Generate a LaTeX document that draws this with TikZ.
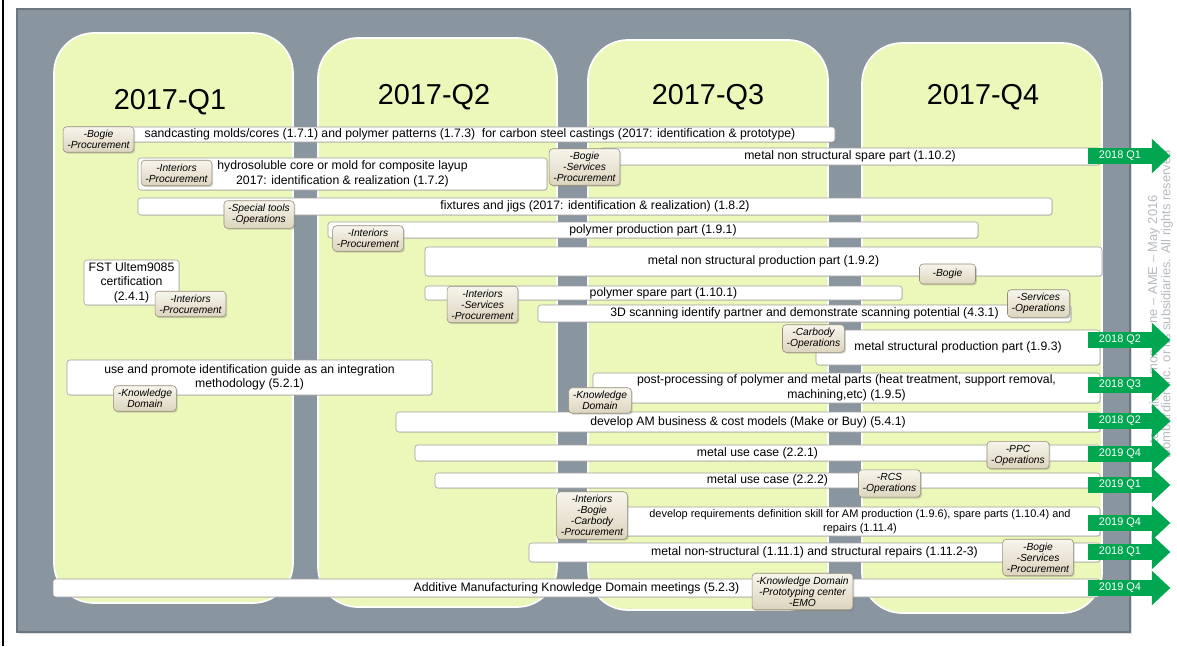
\documentclass[tikz,border=0pt]{standalone}
\usepackage{fontspec}
\setmainfont{Liberation Sans}
\usepackage{tikz}
\usetikzlibrary{shadows}
\definecolor{boardgrey}{RGB}{137,149,159}
\definecolor{boardedge}{RGB}{108,118,127}
\definecolor{quartergreen}{RGB}{236,248,186}
\definecolor{taskline}{RGB}{160,160,160}
\definecolor{ownertop}{RGB}{247,245,236}
\definecolor{ownerbottom}{RGB}{220,212,190}
\definecolor{ownerline}{RGB}{150,140,118}
\definecolor{duegreen}{RGB}{0,166,80}
\definecolor{notegrey}{RGB}{182,186,193}
\newcommand{\pu}{0.025cm}
\tikzstyle{board}=[draw=boardedge, fill=boardgrey, line width=1pt, drop shadow={opacity=0.25, shadow xshift=1.5pt, shadow yshift=-1.5pt}]
\tikzstyle{quarter}=[draw=white, line width=1.2pt, fill=quartergreen, rounded corners=1cm, inner sep=0pt]
\tikzstyle{quartertitle}=[font=\fontsize{20.5}{24}\selectfont, inner sep=0pt]
\tikzstyle{task}=[draw=taskline, fill=white, line width=0.4pt, rounded corners=2pt, inner sep=0pt, align=center, font=\fontsize{8.7}{10.3}\selectfont, drop shadow={opacity=0.2, shadow xshift=0.6pt, shadow yshift=-0.6pt}]
\tikzstyle{owner}=[draw=ownerline, line width=0.4pt, top color=ownertop, bottom color=ownerbottom, rounded corners=2.5pt, inner xsep=3pt, inner ysep=2.5pt, minimum width=1.4cm, minimum height=0.5cm, align=center, font=\fontsize{7.3}{7.8}\selectfont\itshape, drop shadow={opacity=0.35, shadow xshift=1pt, shadow yshift=-1pt}]
\tikzstyle{due}=[fill=duegreen, text=white, inner sep=0pt, minimum width=64*\pu, minimum height=16*\pu, font=\fontsize{7.8}{8}\selectfont]
\tikzstyle{note}=[text=notegrey, rotate=90, inner sep=0pt, font=\fontsize{9.2}{11}\selectfont]
\begin{document}
\begin{tikzpicture}[x=\pu, y=-\pu]
    \useasboundingbox[fill=white] (0,0) rectangle (1177,646);
    \draw[line width=1.2pt] (3,0) -- (3,646);
    \draw[board] (17,9) rectangle (1130,632);

    % quarters
    \node[quarter, minimum width=239*\pu, minimum height=570*\pu] (col1) at (173.5,318) {};
    \node[quarter, minimum width=239*\pu, minimum height=569*\pu] (col2) at (437.5,322.5) {};
    \node[quarter, minimum width=240*\pu, minimum height=570*\pu] (col3) at (708,325) {};
    \node[quarter, minimum width=240*\pu, minimum height=570*\pu] (col4) at (982,328) {};
    \node[quartertitle] (year1) at (170,102) {2017-Q1};
    \node[quartertitle] (year2) at (434,97) {2017-Q2};
    \node[quartertitle] (year3) at (708,97) {2017-Q3};
    \node[quartertitle] (year4) at (983,97) {2017-Q4};

    % tasks
    \node[task, minimum width=730*\pu, minimum height=15*\pu] (sand) at (470,134.5) {sandcasting molds/cores (1.7.1) and polymer patterns (1.7.3)\ \ for carbon steel castings (2017: identification \& prototype)};
    \node[task, minimum width=409*\pu, minimum height=32*\pu] (hydro) at (342.5,174) {hydrosoluble core or mold for composite layup\\2017: identification \& realization (1.7.2)};
    \node[task, minimum width=500*\pu, minimum height=17*\pu] (spare) at (850,156.5) {metal non structural spare part (1.10.2)};
    \node[task, minimum width=914*\pu, minimum height=17*\pu] (jigs) at (595,206.5) {fixtures and jigs (2017: identification \& realization) (1.8.2)};
    \node[task, minimum width=650*\pu, minimum height=16*\pu] (polyprod) at (653,230) {polymer production part (1.9.1)};
    \node[task, minimum width=677*\pu, minimum height=29*\pu] (metalprod) at (763.5,261.5) {metal non structural production part (1.9.2)};
    \node[task, minimum width=95*\pu, minimum height=45*\pu] (fst) at (131.5,282.5) {FST Ultem9085\\certification\\(2.4.1)};
    \node[task, minimum width=477*\pu, minimum height=14*\pu] (polyspare) at (663.5,293) {polymer spare part (1.10.1)};
    \node[task, minimum width=533*\pu, minimum height=17*\pu] (scan) at (804.5,313.5) {3D scanning identify partner and demonstrate scanning potential (4.3.1)};
    \node[task, minimum width=284*\pu, minimum height=35*\pu] (structprod) at (958,347.5) {metal structural production part (1.9.3)};
    \node[task, minimum width=365*\pu, minimum height=35*\pu] (guide) at (249.5,377.5) {use and promote identification guide as an integration\\methodology (5.2.1)};
    \node[task, minimum width=507*\pu, minimum height=30*\pu] (post) at (846.5,388) {post-processing of polymer and metal parts (heat treatment, support removal,\\machining,etc) (1.9.5)};
    \node[task, minimum width=704*\pu, minimum height=20*\pu] (business) at (748,422) {develop AM business \& cost models (Make or Buy) (5.4.1)};
    \node[task, minimum width=685*\pu, minimum height=16*\pu] (usecaseA) at (757.5,453) {metal use case (2.2.1)};
    \node[task, minimum width=665*\pu, minimum height=15*\pu] (usecaseB) at (767.5,480.5) {metal use case (2.2.2)};
    \node[task, minimum width=480*\pu, minimum height=29*\pu, font=\fontsize{7.8}{10}\selectfont] (skill) at (860,521.5) {develop requirements definition skill for AM production (1.9.6), spare parts (1.10.4) and\\repairs (1.11.4)};
    \node[task, minimum width=571*\pu, minimum height=19*\pu] (repairs) at (814.5,552.5) {metal non-structural (1.11.1) and structural repairs (1.11.2-3)};
    \node[task, minimum width=1047*\pu, minimum height=18*\pu] (meetings) at (576.5,588) {Additive Manufacturing Knowledge Domain meetings (5.2.3)};

    % owners
    \node[owner] (o1) at (98.5,139.5) {-Bogie\\-Procurement};
    \node[owner] (o2) at (176.5,173) {-Interiors\\-Procurement};
    \node[owner] (o3) at (584.5,167) {-Bogie\\-Services\\-Procurement};
    \node[owner] (o4) at (259,214.5) {-Special tools\\-Operations};
    \node[owner] (o5) at (368,238.5) {-Interiors\\-Procurement};
    \node[owner] (o6) at (947.5,274) {-Bogie};
    \node[owner] (o7) at (190.5,304) {-Interiors\\-Procurement};
    \node[owner] (o8) at (482.5,304.5) {-Interiors\\-Services\\-Procurement};
    \node[owner] (o9) at (1038.5,303.5) {-Services\\-Operations};
    \node[owner] (o10) at (813.5,338.5) {-Carbody\\-Operations};
    \node[owner] (o11) at (145,398.5) {-Knowledge\\Domain};
    \node[owner] (o12) at (600,400.5) {-Knowledge\\Domain};
    \node[owner] (o13) at (1018,455) {-PPC\\-Operations};
    \node[owner] (o14) at (889.5,483.5) {-RCS\\-Operations};
    \node[owner] (o15) at (592,515.5) {-Interiors\\-Bogie\\-Carbody\\-Procurement};
    \node[owner] (o16) at (1038,557.5) {-Bogie\\-Services\\-Procurement};
    \node[owner] (o17) at (802.5,591.5) {-Knowledge Domain\\-Prototyping center\\-EMO};

    % footer along the right edge
    \node[note, anchor=east] (sig1) at (1154,195) {ne – AME – May 2016};
    \node[note] (sig2) at (1154,362) {mon};
    \node[note] (sig3) at (1154,403) {nie};
    \node[note] (sig4) at (1154,438) {te};
    \node[note, anchor=east] (rights) at (1167,150) {Bombardier Inc. or its subsidiaries. All rights reserved};

    % follow-up dates
    \foreach \y/\q [count=\i] in {156/2018 Q1, 340/2018 Q2, 385/2018 Q3, 421/2018 Q2, 454/2019 Q4, 485/2019 Q1, 523/2019 Q4, 552/2018 Q1, 588/2019 Q4}{
        \node[due] (due\i) at (1120,\y) {\q};
        \fill[duegreen] ([xshift=-0.3pt, yshift=9*\pu]due\i.north east) -- ([xshift=18*\pu]due\i.east) -- ([xshift=-0.3pt, yshift=-9*\pu]due\i.south east) -- cycle;
    }
\end{tikzpicture}
\end{document}
